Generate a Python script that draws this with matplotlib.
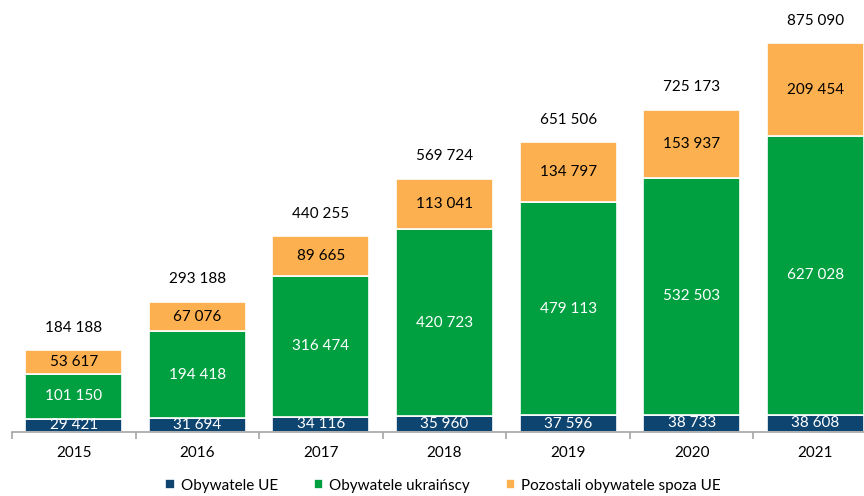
import numpy as np
import matplotlib.pyplot as plt

plt.rcParams['font.family'] = ['Lato', 'DejaVu Sans']

years = ['2015', '2016', '2017', '2018', '2019', '2020', '2021']
eu = [29421, 31694, 34116, 35960, 37596, 38733, 38608]
ukraine = [101150, 194418, 316474, 420723, 479113, 532503, 627028]
other = [53617, 67076, 89665, 113041, 134797, 153937, 209454]
totals = [184188, 293188, 440255, 569724, 651506, 725173, 875090]

c_eu = '#0E4470'
c_ua = '#00A041'
c_ot = '#FDB050'


def fmt(v):
    return f'{v:,}'.replace(',', ' ')


fig = plt.figure(figsize=(8.64, 4.96), dpi=100)
# the last category runs a little past the right edge, as in the original
ax = fig.add_axes([12 / 864, 64 / 496, 865 / 864, 432 / 496])

x = np.arange(len(years))
eu = np.array(eu)
ukraine = np.array(ukraine)
other = np.array(other)
w = 0.785

ax.bar(x, eu, w, color=c_eu, edgecolor='white', linewidth=1.2, label='Obywatele UE')
ax.bar(x, ukraine, w, bottom=eu, color=c_ua, edgecolor='white', linewidth=1.2,
       label='Obywatele ukraińscy')
ax.bar(x, other, w, bottom=eu + ukraine, color=c_ot, edgecolor='white', linewidth=1.2,
       label='Pozostali obywatele spoza UE')

for i in range(len(years)):
    ax.text(x[i], eu[i] / 2, fmt(eu[i]), ha='center', va='center', color='white', fontsize=11)
    ax.text(x[i], eu[i] + ukraine[i] / 2, fmt(ukraine[i]), ha='center', va='center',
            color='white', fontsize=11)
    ax.text(x[i], eu[i] + ukraine[i] + other[i] / 2, fmt(other[i]), ha='center', va='center',
            color='black', fontsize=11)
    ax.annotate(fmt(totals[i]), (x[i], eu[i] + ukraine[i] + other[i]), xytext=(0, 11),
                textcoords='offset points', ha='center', va='bottom', fontsize=11)

ax.set_xlim(-0.5, len(years) - 0.5)
ax.set_ylim(0, 875090 * 432 / 389)
ax.set_yticks([])
for s in ['top', 'right', 'left']:
    ax.spines[s].set_visible(False)
ax.spines['bottom'].set_color('#A6A6A6')
ax.spines['bottom'].set_linewidth(1.2)

ax.set_xticks(x)
ax.set_xticklabels(years, fontsize=11)
ax.tick_params(axis='x', which='major', length=0, pad=10)
ax.set_xticks(np.arange(len(years) + 1) - 0.5, minor=True)
ax.tick_params(axis='x', which='minor', length=5, color='#A6A6A6', width=1.2)

leg = ax.legend(loc='lower center', bbox_to_anchor=(431 / 865, -0.172), ncol=3, frameon=False,
                fontsize=11, handlelength=0.6, handleheight=0.6, handletextpad=0.4,
                columnspacing=2.35)

fig.savefig('out.png', dpi=100)
